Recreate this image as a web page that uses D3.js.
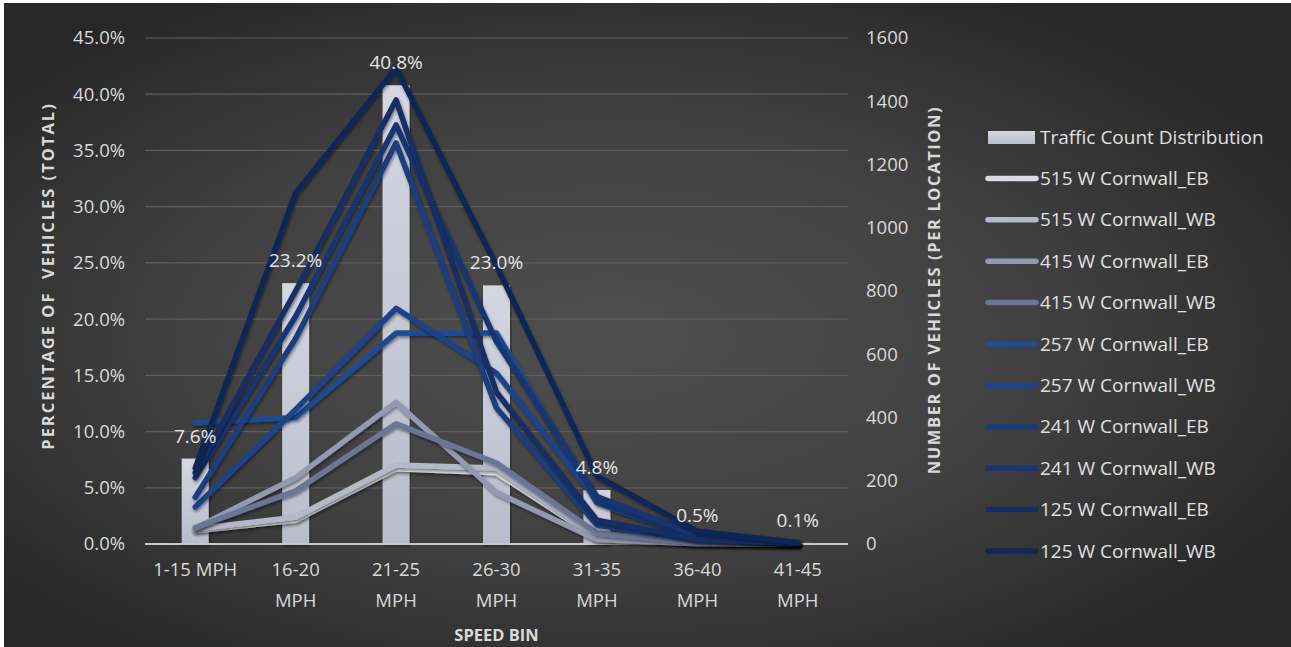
<!DOCTYPE html>
<html>
<head>
<meta charset="utf-8">
<script src="https://cdn.jsdelivr.net/npm/d3@7"></script>
<style>
  html, body { margin: 0; padding: 0; background: #ffffff; }
  svg { display: block; }
  text { font-family: "Open Sans", "Noto Sans", sans-serif; }
</style>
</head>
<body>
<svg id="chart" width="1291" height="647"></svg>
<script>
// Speed bins on the category axis
const categories = [["1-15 MPH"], ["16-20", "MPH"], ["21-25", "MPH"], ["26-30", "MPH"], ["31-35", "MPH"], ["36-40", "MPH"], ["41-45", "MPH"]];
const binKeys = ["1-15", "16-20", "21-25", "26-30", "31-35", "36-40", "41-45"];

// Share of all counted vehicles per speed bin (left axis)
const distribution = [0.076, 0.232, 0.408, 0.230, 0.048, 0.005, 0.001];

// Vehicles per location per speed bin (right axis)
const seriesNames = [
  "515 W Cornwall_EB", "515 W Cornwall_WB", "415 W Cornwall_EB", "415 W Cornwall_WB",
  "257 W Cornwall_EB", "257 W Cornwall_WB", "241 W Cornwall_EB", "241 W Cornwall_WB",
  "125 W Cornwall_EB", "125 W Cornwall_WB"
];
const cornwall515EB = [42, 75, 238, 225, 18, 2, 0];
const cornwall515WB = [48, 85, 250, 240, 25, 3, 0];
const cornwall415EB = [50, 210, 448, 163, 14, 1, 0];
const cornwall415WB = [52, 168, 380, 256, 35, 4, 0];
const cornwall257EB = [383, 400, 667, 667, 130, 20, 3];
const cornwall257WB = [117, 425, 745, 540, 140, 25, 3];
const cornwall241EB = [148, 650, 1268, 430, 60, 12, 2];
const cornwall241WB = [210, 720, 1325, 640, 150, 28, 4];
const cornwall125EB = [225, 800, 1404, 480, 75, 15, 2];
const cornwall125WB = [240, 1110, 1505, 880, 215, 40, 5];
const seriesValues = [cornwall515EB, cornwall515WB, cornwall415EB, cornwall415WB,
  cornwall257EB, cornwall257WB, cornwall241EB, cornwall241WB, cornwall125EB, cornwall125WB];
const seriesColors = ["#d9dbe3", "#b5b8c8", "#9399b0", "#6b7597",
  "#1f4c92", "#1d4389", "#1a3c7e", "#173572", "#142e64", "#112758"];

const leftTicks = [0, 0.05, 0.10, 0.15, 0.20, 0.25, 0.30, 0.35, 0.40, 0.45];
const rightTicks = [0, 200, 400, 600, 800, 1000, 1200, 1400, 1600];

const svg = d3.select("#chart");
const W = 1291, H = 647;

// Background panel with soft radial lighting
const defs = svg.append("defs");
const bg = defs.append("radialGradient").attr("id", "bgGrad")
  .attr("cx", 0.47).attr("cy", 0.52).attr("r", 0.62);
bg.append("stop").attr("offset", "0%").attr("stop-color", "#4f4f4f");
bg.append("stop").attr("offset", "55%").attr("stop-color", "#404040");
bg.append("stop").attr("offset", "100%").attr("stop-color", "#272727");

const barGrad = defs.append("linearGradient").attr("id", "barGrad")
  .attr("x1", 0).attr("x2", 0).attr("y1", 0).attr("y2", 1);
barGrad.append("stop").attr("offset", "0%").attr("stop-color", "#d4d6e0");
barGrad.append("stop").attr("offset", "100%").attr("stop-color", "#b9bccb");

const shadow = defs.append("filter").attr("id", "shadow")
  .attr("x", "-5%").attr("y", "-5%").attr("width", "110%").attr("height", "115%");
shadow.append("feDropShadow").attr("dx", 1).attr("dy", 2).attr("stdDeviation", 1.5)
  .attr("flood-color", "#000").attr("flood-opacity", 0.45);

svg.append("rect").attr("x", 4).attr("y", 3).attr("width", W - 4).attr("height", H - 3)
  .attr("fill", "url(#bgGrad)");

const plot = { left: 145, right: 848, top: 38, bottom: 544 };

const x = d3.scaleBand().domain(binKeys).range([plot.left, plot.right]).padding(0);
const yLeft = d3.scaleLinear().domain([0, 0.45]).range([plot.bottom, plot.top]);
const yRight = d3.scaleLinear().domain([0, 1600]).range([plot.bottom, plot.top]);

const tickFont = "18.5px";

// Horizontal gridlines on the percentage scale
svg.append("g").selectAll("line").data(leftTicks.slice(1)).join("line")
  .attr("x1", plot.left).attr("x2", plot.right)
  .attr("y1", d => yLeft(d)).attr("y2", d => yLeft(d))
  .attr("stroke", "#5e5e5e").attr("stroke-width", 1.2);

// Left axis
const leftAxis = svg.append("g").attr("transform", `translate(${plot.left},0)`)
  .call(d3.axisLeft(yLeft).tickValues(leftTicks).tickFormat(d3.format(".1%")).tickSize(0).tickPadding(20));
leftAxis.select(".domain").remove();
leftAxis.selectAll("text").attr("fill", "#d9d9d9").attr("font-size", tickFont)
  .attr("font-family", "'Open Sans', sans-serif");

// Right axis
const rightAxis = svg.append("g").attr("transform", `translate(${plot.right},0)`)
  .call(d3.axisRight(yRight).tickValues(rightTicks).tickFormat(d3.format("d")).tickSize(0).tickPadding(18));
rightAxis.select(".domain").remove();
rightAxis.selectAll("text").attr("fill", "#d9d9d9").attr("font-size", tickFont)
  .attr("font-family", "'Open Sans', sans-serif");

// Bars: overall traffic count distribution
const barW = 27;
svg.append("g").selectAll("rect").data(distribution).join("rect")
  .attr("x", (d, i) => x(binKeys[i]) + x.bandwidth() / 2 - barW / 2)
  .attr("width", barW)
  .attr("y", d => yLeft(d))
  .attr("height", d => plot.bottom - yLeft(d))
  .attr("fill", "url(#barGrad)")
  .attr("filter", "url(#shadow)");

// Category baseline
svg.append("line").attr("x1", plot.left).attr("x2", plot.right)
  .attr("y1", plot.bottom).attr("y2", plot.bottom)
  .attr("stroke", "#c8c8c8").attr("stroke-width", 2);

// Per-location lines
const line = d3.line()
  .x((d, i) => x(binKeys[i]) + x.bandwidth() / 2)
  .y(d => yRight(d));
svg.append("g").selectAll("path").data(seriesValues).join("path")
  .attr("d", d => line(d))
  .attr("fill", "none")
  .attr("stroke", (d, i) => seriesColors[i])
  .attr("stroke-width", 5.5)
  .attr("stroke-linejoin", "round")
  .attr("stroke-linecap", "round")
  .attr("filter", "url(#shadow)");

// Bar value labels
svg.append("g").selectAll("text").data(distribution).join("text")
  .attr("x", (d, i) => x(binKeys[i]) + x.bandwidth() / 2)
  .attr("y", d => yLeft(d) - 16)
  .attr("text-anchor", "middle")
  .attr("fill", "#e4e4e4").attr("font-size", "19px")
  .text(d => d3.format(".1%")(d));

// Category labels
const catG = svg.append("g");
categories.forEach((lines, i) => {
  const t = catG.append("text")
    .attr("x", x(binKeys[i]) + x.bandwidth() / 2)
    .attr("y", 576)
    .attr("text-anchor", "middle")
    .attr("fill", "#d9d9d9").attr("font-size", tickFont);
  lines.forEach((s, j) => {
    t.append("tspan").attr("x", x(binKeys[i]) + x.bandwidth() / 2)
      .attr("dy", j === 0 ? 0 : 31).text(s);
  });
});

// Axis titles
svg.append("text")
  .attr("transform", `translate(54,276) rotate(-90)`)
  .attr("text-anchor", "middle")
  .attr("fill", "#d9d9d9").attr("font-size", "16.5px").attr("font-weight", "bold")
  .attr("letter-spacing", "2px")
  .attr("xml:space", "preserve")
  .text("PERCENTAGE OF  VEHICLES (TOTAL)");

svg.append("text")
  .attr("transform", `translate(940,290) rotate(-90)`)
  .attr("text-anchor", "middle")
  .attr("fill", "#d9d9d9").attr("font-size", "16.5px").attr("font-weight", "bold")
  .attr("letter-spacing", "1.6px")
  .text("NUMBER OF VEHICLES (PER LOCATION)");

svg.append("text")
  .attr("x", (plot.left + plot.right) / 2).attr("y", 641)
  .attr("text-anchor", "middle")
  .attr("fill", "#d9d9d9").attr("font-size", "16.5px").attr("font-weight", "bold")
  .text("SPEED BIN");

// Legend
const legend = svg.append("g");
const legX = 988, legText = 1040, legTop = 137, legStep = 41.4;
const legFont = "19px";
legend.append("rect").attr("x", legX).attr("y", legTop - 6).attr("width", 47).attr("height", 13)
  .attr("fill", "url(#barGrad)");
legend.append("text").attr("x", legText).attr("y", legTop).attr("dy", "0.35em")
  .attr("fill", "#e0e0e0").attr("font-size", legFont).text("Traffic Count Distribution");
seriesNames.forEach((name, i) => {
  const yy = legTop + legStep * (i + 1);
  legend.append("line").attr("x1", legX).attr("x2", legX + 48)
    .attr("y1", yy).attr("y2", yy)
    .attr("stroke", seriesColors[i]).attr("stroke-width", 5.5).attr("stroke-linecap", "round");
  legend.append("text").attr("x", legText).attr("y", yy).attr("dy", "0.35em")
    .attr("fill", "#e0e0e0").attr("font-size", legFont).text(name);
});
</script>
</body>
</html>
